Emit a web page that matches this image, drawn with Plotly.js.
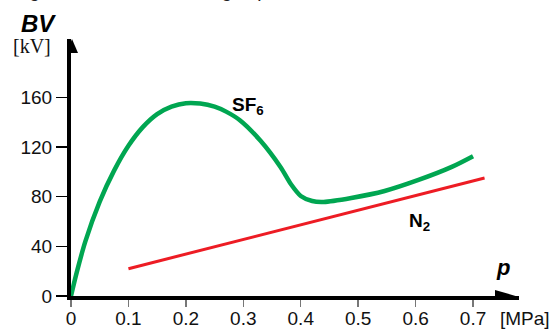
<!DOCTYPE html>
<html>
<head>
<meta charset="utf-8">
<script src="https://cdn.plot.ly/plotly-3.0.1.min.js"></script>
<style>html,body{margin:0;padding:0;background:#fff}</style>
</head>
<body>
<div id="chart" style="width:553px;height:329px"></div>
<script>
// Data
const pressureSF6 = [0, 0.01, 0.025, 0.05, 0.075, 0.1, 0.125, 0.15, 0.175, 0.2, 0.225, 0.25, 0.27, 0.294, 0.33, 0.365, 0.383, 0.40, 0.42, 0.44, 0.488, 0.546, 0.605, 0.663, 0.70];
const bvSF6 = [0, 19, 44, 76, 101, 121, 136, 146.5, 152.5, 155.3, 155, 152.5, 148.5, 141.6, 125, 103.7, 90, 80.6, 76.5, 75.8, 79, 84.6, 93.5, 104, 112.6];
const pressureN2 = [0.1, 0.72];
const bvN2 = [22, 95];
const xTickVals = [0, 0.1, 0.2, 0.3, 0.4, 0.5, 0.6, 0.7];
const xTickText = ['0', '0.1', '0.2', '0.3', '0.4', '0.5', '0.6', '0.7'];
const yTickVals = [0, 40, 80, 120, 160];
const yTickText = ['0', '40', '80', '120', '160'];

const sans = 'Liberation Sans, Arial, sans-serif';
const serif = 'Liberation Serif, Times New Roman, serif';

const traces = [
  {x: pressureSF6, y: bvSF6, mode: 'lines', line: {color: '#00A651', width: 4.5, shape: 'spline', smoothing: 0.8}, hoverinfo: 'skip'},
  {x: pressureN2, y: bvN2, mode: 'lines', line: {color: '#ED1C24', width: 3}, hoverinfo: 'skip'}
];

const layout = {
  width: 553, height: 329,
  margin: {l: 71, r: 34, t: 39, b: 33, pad: 0},
  paper_bgcolor: '#fff', plot_bgcolor: '#fff',
  showlegend: false,
  xaxis: {
    range: [0, 0.78], showgrid: false, zeroline: false,
    showline: true, linecolor: '#000', linewidth: 4,
    ticks: 'outside', ticklen: 7, tickwidth: 1.5, tickcolor: '#777',
    ticklabelstandoff: -5,
    tickvals: xTickVals, ticktext: xTickText,
    tickfont: {family: sans, size: 19, color: '#111'}
  },
  yaxis: {
    range: [0, 207], showgrid: false, zeroline: false,
    showline: true, linecolor: '#000', linewidth: 4,
    ticks: 'outside', ticklen: 11, tickwidth: 1.5, tickcolor: '#000',
    tickvals: yTickVals, ticktext: yTickText,
    tickfont: {family: sans, size: 19, color: '#111'}
  },
  shapes: [
    {type: 'path', xref: 'x', yref: 'y', xsizemode: 'pixel', ysizemode: 'pixel',
     xanchor: 0.78, yanchor: 0, path: 'M 0 -1 L -24 6 L -24 -8 Z',
     fillcolor: '#000', line: {width: 0}},
    {type: 'path', xref: 'x', yref: 'y', xsizemode: 'pixel', ysizemode: 'pixel',
     xanchor: 0, yanchor: 207, path: 'M 1 0 L -5 -14 L 7 -14 Z',
     fillcolor: '#000', line: {width: 0}}
  ],
  annotations: [
    {text: 'voltage as a function of the gas pressure', xref: 'paper', yref: 'paper', x: 262/448, y: 1 + 36/257,
     xanchor: 'right', yanchor: 'bottom', showarrow: false, font: {family: sans, size: 19, color: '#222'}},
    {text: '<b><i>BV</i></b>', xref: 'paper', yref: 'paper', x: -33/448, y: 1 + 15/257,
     xanchor: 'center', yanchor: 'middle', showarrow: false, font: {family: sans, size: 24, color: '#000'}},
    {text: '[kV]', xref: 'paper', yref: 'paper', x: -39/448, y: 1 - 7/257,
     xanchor: 'center', yanchor: 'middle', showarrow: false, font: {family: serif, size: 20, color: '#111'}},
    {text: '<b>SF<sub>6</sub></b>', xref: 'x', yref: 'y', x: 0.308, y: 153,
     xanchor: 'center', yanchor: 'middle', showarrow: false, font: {family: sans, size: 19, color: '#000'}},
    {text: '<b>N<sub>2</sub></b>', xref: 'x', yref: 'y', x: 0.607, y: 60,
     xanchor: 'center', yanchor: 'middle', showarrow: false, font: {family: sans, size: 19, color: '#000'}},
    {text: '<b><i>p</i></b>', xref: 'x', yref: 'y', x: 0.753, y: 23,
     xanchor: 'center', yanchor: 'middle', showarrow: false, font: {family: sans, size: 22, color: '#000'}},
    {text: '[MPa]', xref: 'paper', yref: 'paper', x: 1 + 6/448, y: -22/257,
     xanchor: 'center', yanchor: 'middle', showarrow: false, font: {family: sans, size: 19, color: '#111'}}
  ]
};

Plotly.newPlot('chart', traces, layout, {displayModeBar: false, staticPlot: true});
</script>
</body>
</html>
